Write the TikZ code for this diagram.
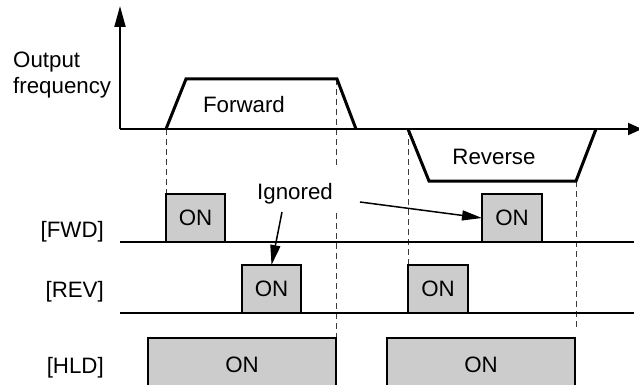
\documentclass[tikz,border=0pt]{standalone}
\usepackage{fontspec}
\setmainfont{Liberation Sans}
\usetikzlibrary{arrows.meta}
\definecolor{boxgray}{HTML}{CCCCCC}
\definecolor{dashgray}{HTML}{3A3A3A}
\begin{document}
\begin{tikzpicture}[x=1pt,y=-1pt,
  lbl/.style={font=\fontsize{22.3}{26}\selectfont, inner sep=0pt},
  onbox/.style={draw=black, fill=boxgray, line width=1.5pt, inner sep=0pt, outer sep=0pt,
    font=\fontsize{22.3}{26}\selectfont},
  axis/.style={line width=2pt},
  wave/.style={line width=3pt, line join=miter},
  guide/.style={draw=dashgray, line width=1pt, dash pattern=on 6pt off 4pt},
  sig/.style={line width=2pt},
  pointer/.style={line width=1.5pt, -{Triangle[length=20pt,width=10pt]}},
]
\useasboundingbox (0,0) rectangle (639,385);
% guide lines
\draw[guide] (166,129) -- (166,194);
\draw[guide] (336.5,79) -- (336.5,168);
\draw[guide] (336.5,213) -- (336.5,385);
\draw[guide] (408,129) -- (408,265);
\draw[guide] (576,181) -- (576,330);
% axes
\coordinate (o) at (120,129);
\coordinate (ytip) at (120,6);
\coordinate (xtip) at (642,129);
\draw[axis, -{Triangle[length=21pt,width=11pt]}] (o) -- (ytip);
\draw[axis, -{Triangle[length=14pt,width=12pt]}] (o) -- (xtip);
% output frequency
\draw[wave] (166,129) -- (186,79) -- (337,79) -- (356,129);
\draw[wave] (408,129) -- (429,181) -- (576,181) -- (596,129);
\node[lbl, anchor=base west] (out) at (13,68) {Output};
\node[lbl, anchor=base west] (freq) at (13,94) {frequency};
\node[lbl, anchor=base] (fwdtxt) at (244,113) {Forward};
\node[lbl, anchor=base] (revtxt) at (494,164) {Reverse};
% signal lines
\draw[sig] (120,242) -- (634,242);
\draw[sig] (120,313) -- (634,313);
\node[lbl, anchor=base east] (lfwd) at (104,237) {[FWD]};
\node[lbl, anchor=base east] (lrev) at (104,297) {[REV]};
\node[lbl, anchor=base east] (lhld) at (104,373) {[HLD]};
% ON boxes
\node[onbox, minimum width=59pt, minimum height=48pt] (f1) at (195.5,218) {ON};
\node[onbox, minimum width=60pt, minimum height=48pt] (f2) at (512,218) {ON};
\node[onbox, minimum width=59pt, minimum height=48pt] (r1) at (271.5,289) {ON};
\node[onbox, minimum width=60pt, minimum height=48pt] (r2) at (438,289) {ON};
\node[onbox, minimum width=188pt, minimum height=54pt] (h1) at (242,365) {ON};
\node[onbox, minimum width=188pt, minimum height=54pt] (h2) at (481,365) {ON};
% ignored
\node[lbl, anchor=base] (ign) at (295,199) {Ignored};
\coordinate (a1) at (282,212);
\coordinate (a2) at (360,202);
\draw[pointer] (a1) -- (r1.north);
\draw[pointer] (a2) -- (f2.west);
\end{tikzpicture}
\end{document}
